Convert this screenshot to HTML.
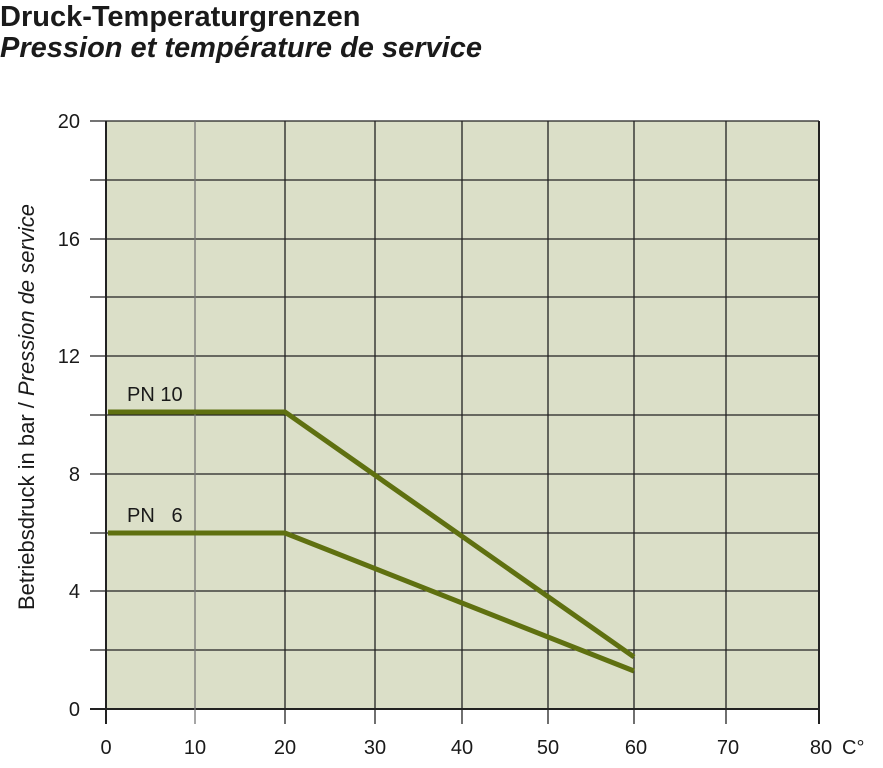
<!DOCTYPE html>
<html><head><meta charset="utf-8"><style>
body{margin:0;background:#fff;width:883px;height:763px;overflow:hidden}
svg text{font-family:"Liberation Sans",sans-serif;fill:#1a1a1a}
</style></head><body>
<svg width="883" height="763" xmlns="http://www.w3.org/2000/svg">
<text x="0" y="26" font-size="29" font-weight="bold">Druck-Temperaturgrenzen</text>
<text x="0" y="57" font-size="29" font-weight="bold" font-style="italic">Pression et température de service</text>
<rect x="106" y="121" width="713" height="588" fill="#dbdfc8"/>
<g stroke="#222" stroke-width="1.3">
<line x1="90" y1="121" x2="819" y2="121"/>
<line x1="90" y1="180" x2="819" y2="180"/>
<line x1="90" y1="239" x2="819" y2="239"/>
<line x1="90" y1="297" x2="819" y2="297"/>
<line x1="90" y1="356" x2="819" y2="356"/>
<line x1="90" y1="415" x2="819" y2="415"/>
<line x1="90" y1="474" x2="819" y2="474"/>
<line x1="90" y1="533" x2="819" y2="533"/>
<line x1="90" y1="591" x2="819" y2="591"/>
<line x1="90" y1="650" x2="819" y2="650"/>
<line x1="90" y1="709" x2="819" y2="709" stroke-width="2"/>
<line x1="106" y1="121" x2="106" y2="724" stroke-width="2"/>
<line x1="195" y1="121" x2="195" y2="724" stroke="#777"/>
<line x1="285" y1="121" x2="285" y2="724"/>
<line x1="375" y1="121" x2="375" y2="724"/>
<line x1="462" y1="121" x2="462" y2="724"/>
<line x1="548" y1="121" x2="548" y2="724"/>
<line x1="634" y1="121" x2="634" y2="724"/>
<line x1="726" y1="121" x2="726" y2="724"/>
<line x1="819" y1="121" x2="819" y2="724" stroke-width="2"/>
</g>
<g fill="none" stroke="#5f7010" stroke-width="5">
<polyline points="108,412 285,412 634,657"/>
<polyline points="108,533 285,533 634,671"/>
</g>
<g font-size="20" text-anchor="end">
<text x="80" y="128">20</text><text x="80" y="246">16</text><text x="80" y="363">12</text>
<text x="80" y="481">8</text><text x="80" y="598">4</text><text x="80" y="716">0</text>
</g>
<g font-size="20" text-anchor="middle">
<text x="106" y="754">0</text><text x="195" y="754">10</text><text x="285" y="754">20</text>
<text x="375" y="754">30</text><text x="462" y="754">40</text><text x="548" y="754">50</text>
<text x="636" y="754">60</text><text x="728" y="754">70</text><text x="821" y="754">80</text>
</g>
<text x="842" y="754" font-size="20">C°</text>
<text x="127" y="401" font-size="20">PN 10</text>
<text x="127" y="522" font-size="20">PN&#160;&#160;&#160;6</text>
<text transform="translate(34,610) rotate(-90)" font-size="22">Betriebsdruck in bar / <tspan font-style="italic">Pression de service</tspan></text>
</svg>
</body></html>
